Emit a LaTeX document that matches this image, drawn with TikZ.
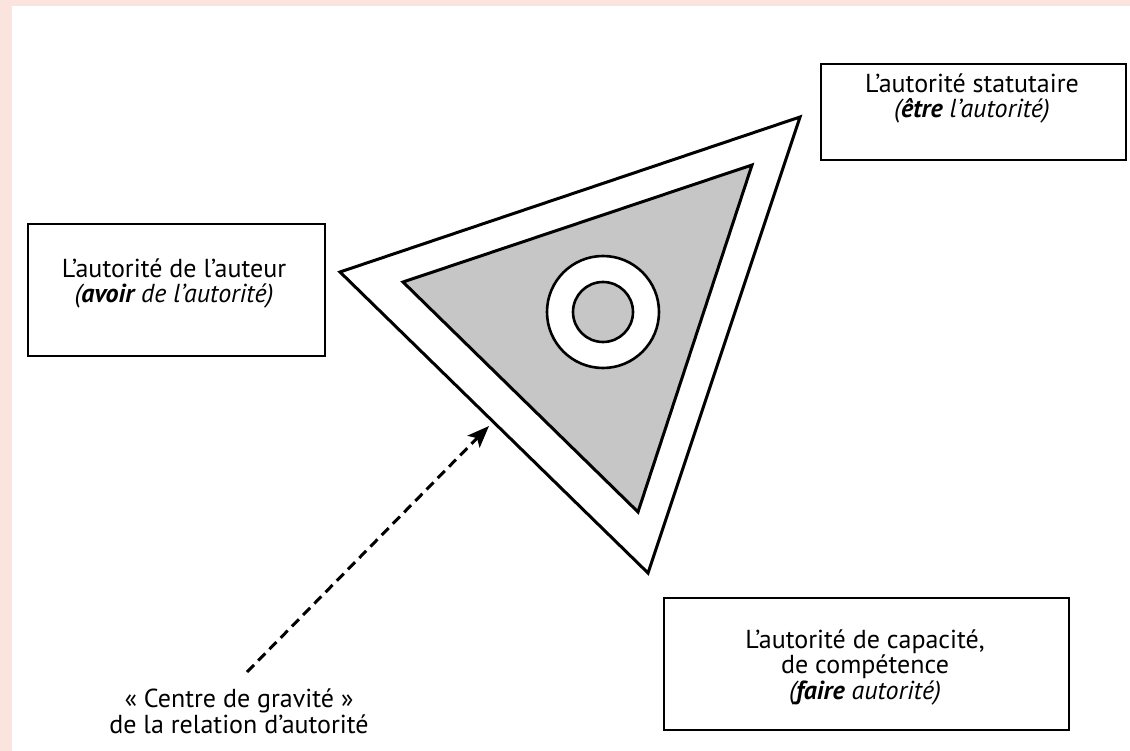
\documentclass[tikz,border=0pt]{standalone}
\usepackage{fontspec}
\setmainfont{PT Sans}
\usetikzlibrary{arrows.meta}
\definecolor{pinkbg}{HTML}{FCE4DE}
\definecolor{shade}{HTML}{C6C6C6}
\begin{document}
\begin{tikzpicture}[x=1pt,y=-1pt,
  box/.style={draw,line width=1.8pt,inner sep=0pt},
  lbl/.style={align=center,font=\fontsize{26}{25.5}\selectfont,inner sep=0pt,anchor=base},
  tri/.style={line width=3pt,line join=miter},
  ring/.style={line width=2.6pt},
  pointer/.style={line width=3pt,dash pattern=on 10pt off 6pt,-{Stealth[length=22pt,width=17pt,inset=5pt]}}
  ]
\useasboundingbox (0,0) rectangle (1130,751);
\fill[pinkbg] (0,0) rectangle (1130,751);
\fill[white] (12,6) rectangle (1130,751);
% boxes
\node[box,minimum width=305pt,minimum height=96pt,anchor=north west] (stat) at (820,63) {};
\node[box,minimum width=297pt,minimum height=132pt,anchor=north west] (aut) at (27,223) {};
\node[box,minimum width=405pt,minimum height=132pt,anchor=north west] (cap) at (663,597) {};
% texts
\node[lbl] (tstat) at (972,118) {L’autorité statutaire\\\textit{(\textbf{être} l’autorité)}};
\node[lbl] (taut) at (174,303) {L’autorité de l’auteur\\\textit{(\textbf{avoir} de l’autorité)}};
\node[lbl] (tcap) at (865,699) {L’autorité de capacité,\\de compétence\\\textit{(\textbf{faire} autorité)}};
\node[lbl] (tcentre) at (239,733) {« Centre de gravité »\\de la relation d’autorité};
% triangle
\coordinate (oL) at (340,272);
\coordinate (oT) at (800,117);
\coordinate (oB) at (648,573);
\coordinate (iL) at (403,282);
\coordinate (iT) at (752,165);
\coordinate (iB) at (638,512);
\draw[tri,fill=white] (oL) -- (oT) -- (oB) -- cycle;
\draw[tri,fill=shade] (iL) -- (iT) -- (iB) -- cycle;
\coordinate (cc) at (603,312);
\draw[ring,fill=white] (cc) circle[radius=56pt];
\draw[ring,fill=shade] (cc) circle[radius=30pt];
% arrow
\coordinate (aS) at (247,672);
\coordinate (aE) at (489,426);
\draw[pointer] (aS) -- (aE);
\end{tikzpicture}
\end{document}
